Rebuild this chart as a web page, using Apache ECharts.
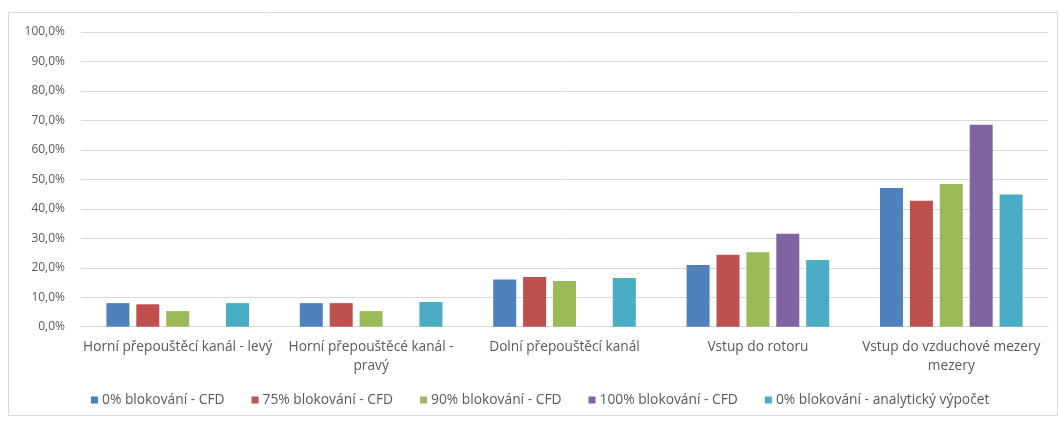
<!DOCTYPE html>
<html>
<head>
<meta charset="utf-8">
<script src="https://cdn.jsdelivr.net/npm/echarts@6/dist/echarts.min.js"></script>
<style>
  html, body { margin: 0; padding: 0; background: #fff; }
  #chart { width: 1059px; height: 426px; }
</style>
</head>
<body>
<div id="chart"></div>
<script>
// Channel categories (line breaks as they appear under the axis)
const categories = [
  'Horní přepouštěcí kanál - levý',
  'Horní přepouštěcé kanál -\npravý',
  'Dolní přepouštěcí kanál',
  'Vstup do rotoru',
  'Vstup do vzduchové mezery\nmezery'
];

// Share of flow in percent, one array per case
const cfd0   = [8.0, 8.0, 16.0, 20.9, 47.1];
const cfd75  = [7.6, 8.0, 16.9, 24.4, 42.7];
const cfd90  = [5.3, 5.3, 15.5, 25.3, 48.4];
const cfd100 = [null, null, null, 31.5, 68.5];
const analyt = [8.0, 8.4, 16.5, 22.6, 44.9];

const seriesNames = [
  '0% blokování - CFD',
  '75% blokování - CFD',
  '90% blokování - CFD',
  '100% blokování - CFD',
  '0% blokování - analytický výpočet'
];
const seriesData = [cfd0, cfd75, cfd90, cfd100, analyt];
const colors = ['#4F81BD', '#C0504D', '#9BBB59', '#8064A2', '#4BACC6'];

const yTicks = { min: 0, max: 100, interval: 10 };

const font = '"Open Sans", "DejaVu Sans", sans-serif';
const textGrey = '#595959';
const gridGrey = '#D9D9D9';

const chart = echarts.init(document.getElementById('chart'), null, { renderer: 'canvas' });

chart.setOption({
  animation: false,
  backgroundColor: '#fff',
  color: colors,
  textStyle: { fontFamily: font },
  graphic: [{
    type: 'rect',
    shape: { x: 8.5, y: 12.5, width: 1049, height: 403 },
    style: { fill: 'none', stroke: gridGrey, lineWidth: 1 },
    silent: true,
    z: -1
  }],
  grid: { left: 81, right: 11, top: 32, bottom: 99.3, containLabel: false },
  legend: {
    left: 86,
    top: 387,
    itemWidth: 7,
    itemHeight: 7,
    itemGap: 27,
    icon: 'rect',
    textStyle: { color: textGrey, fontSize: 13.8, fontFamily: font, lineHeight: 16, padding: [0, 0, 0, -1] },
    data: seriesNames
  },
  xAxis: {
    type: 'category',
    data: categories,
    axisLine: { show: true, lineStyle: { color: gridGrey, width: 1 } },
    axisTick: { show: false },
    axisLabel: {
      color: textGrey,
      fontSize: 13.7,
      fontFamily: font,
      lineHeight: 19,
      margin: 11,
      interval: 0
    }
  },
  yAxis: {
    type: 'value',
    min: yTicks.min,
    max: yTicks.max,
    interval: yTicks.interval,
    axisLine: { show: false },
    axisTick: { show: false },
    splitLine: { lineStyle: { color: gridGrey, width: 1 } },
    axisLabel: {
      color: textGrey,
      fontSize: 12,
      fontFamily: font,
      margin: 16,
      formatter: v => v.toFixed(1).replace('.', ',') + '%'
    }
  },
  series: seriesNames.map((name, i) => ({
    name,
    type: 'bar',
    data: seriesData[i],
    barWidth: 23,
    barGap: '30%',
    itemStyle: { color: colors[i] }
  }))
});
</script>
</body>
</html>
